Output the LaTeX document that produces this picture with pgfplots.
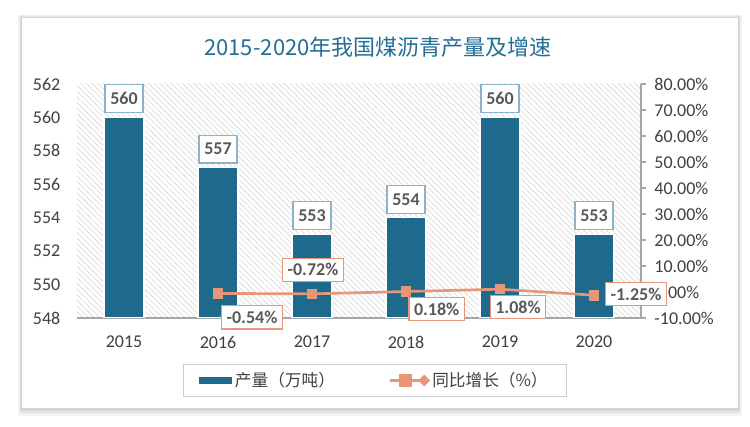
\documentclass[border=0pt]{standalone}
\usepackage{fontspec}
\setmainfont{Carlito}
\newfontfamily\cjk{Noto Sans CJK SC}
\usepackage{pgfplots}
\pgfplotsset{compat=1.18}
\usetikzlibrary{patterns.meta}
\definecolor{barc}{RGB}{30,106,140}
\definecolor{linec}{RGB}{232,150,122}
\definecolor{tickc}{RGB}{64,64,64}
\definecolor{titlec}{RGB}{35,110,150}
\definecolor{lblbord}{RGB}{140,178,204}
\definecolor{lbltext}{RGB}{89,89,89}
\pgfplotsset{/pgf/number format/assume math mode=true}
\tikzset{lab/.style={font=\bfseries\fontsize{13.5}{15}\selectfont, text=lbltext, draw=linec, line width=1pt, fill=white, inner xsep=3.7pt, inner ysep=4pt}}
\begin{document}
\begin{tikzpicture}
% background and card
\fill[white] (0,0) rectangle (562.5pt,320.25pt);
\foreach \d in {5,4,3,2,1}{
  \fill[black,opacity=0.035] (16.5pt-0.6*\d pt,14.25pt-1.2*\d pt) rectangle (553.5pt+0.6*\d pt,306.75pt+0.5*\d pt);
}
\fill[white] (16.5pt,14.25pt) rectangle (553.5pt,306.75pt);
\node[font=\cjk\fontsize{16.5}{20}\selectfont, text=titlec] at (283.5pt,285pt) {2015-2020年我国煤沥青产量及增速};

\begin{axis}[
  at={(57.75pt,81.75pt)}, anchor=south west,
  scale only axis, width=423pt, height=175.5pt,
  xmin=-0.5, xmax=5.5, ymin=548, ymax=562,
  ytick={548,550,...,562},
  xtick={0,...,5}, xticklabels={2015,2016,2017,2018,2019,2020},
  axis x line*=bottom, axis y line*=left,
  x axis line style={-, draw=gray!70, line width=0.8pt},
  y axis line style={draw=none},
  major tick length=0pt,
  tick label style={font=\fontsize{13.5}{15}\selectfont, text=tickc},
  yticklabel style={xshift=-9pt},
  xticklabel style={yshift=-10pt},
  axis background/.style={pattern={Lines[angle=-45,distance=3pt,line width=0.45pt]}, pattern color=gray!32},
  ybar, bar width=30pt,
  nodes near coords,
  every node near coord/.style={font=\bfseries\fontsize{13.5}{15}\selectfont, text=lbltext, draw=lblbord, line width=0.8pt, fill=white, inner xsep=4pt, inner ysep=6pt, anchor=south, yshift=3pt},
]
\addplot[fill=barc, draw=white, line width=0.9pt] coordinates {(0,560)(1,557)(2,553)(3,554)(4,560)(5,553)};
\end{axis}

\begin{axis}[
  at={(57.75pt,81.75pt)}, anchor=south west,
  scale only axis, width=423pt, height=175.5pt,
  xmin=-0.5, xmax=5.5, ymin=-10, ymax=80,
  ytick={-10,0,...,80},
  yticklabel={\pgfmathprintnumber[fixed,fixed zerofill,precision=2]{\tick}\%},
  axis y line*=right, axis x line=none,
  y axis line style={-, draw=gray!70, line width=0.8pt},
  ytick style={draw=gray!70, line width=0.8pt},
  tick align=outside, major tick length=4pt,
  tick label style={font=\fontsize{13.5}{15}\selectfont, text=tickc},
  yticklabel style={xshift=2.5pt},
  clip=false,
  legend style={at={(0.528,-0.267)}, anchor=center, draw=gray!40, line width=0.8pt,
    font=\cjk\fontsize{12.5}{15}\selectfont, text=tickc, inner xsep=12pt, inner ysep=4pt,
    /tikz/every even column/.append style={column sep=38pt}},
  legend columns=2,
]
\addlegendimage{legend image code/.code={\fill[barc] (0pt,-2.3pt) rectangle (24pt,2.3pt);}}
\addlegendentry{产量（万吨）}
\addplot[linec, line width=2pt, mark=square*, mark size=3.6pt, mark options={fill=linec, draw=linec, line width=0pt},
  legend image code/.code={\draw[linec, line width=2pt] (0pt,0pt) -- (29pt,0pt); \fill[linec] (8pt,-3.6pt) rectangle (15.5pt,3.6pt); \fill[linec] (29pt,0pt) -- (26pt,3pt) -- (23pt,0pt) -- (26pt,-3pt) -- cycle;}]
  coordinates {(1,-0.54)(2,-0.72)(3,0.18)(4,1.08)(5,-1.25)};
\addlegendentry{同比增长（\%）}
\node[lab, xshift=25.5pt, yshift=-18pt] at (axis cs:1,-0.54) {-0.54\%};
\node[lab, xshift=0.75pt, yshift=18pt] at (axis cs:2,-0.72) {-0.72\%};
\node[lab, xshift=23pt, yshift=-13pt] at (axis cs:3,0.18) {0.18\%};
\node[lab, xshift=13.5pt, yshift=-13.5pt] at (axis cs:4,1.08) {1.08\%};
\node[lab, xshift=31.5pt, yshift=1pt] at (axis cs:5,-1.25) {-1.25\%};
\end{axis}
\end{tikzpicture}
\end{document}
